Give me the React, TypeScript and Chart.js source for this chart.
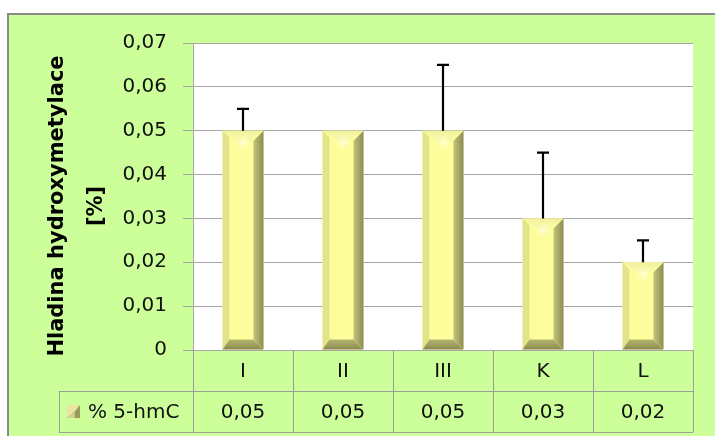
import React, { useEffect, useRef } from "react";
import { Chart, registerables } from "chart.js";

Chart.register(...registerables);

const categories = ["I", "II", "III", "K", "L"];
const seriesName = "% 5-hmC";
const values = [0.05, 0.05, 0.05, 0.03, 0.02];
const errors = [0.005, 0, 0.015, 0.015, 0.005];
const yMin = 0;
const yMax = 0.07;
const yStep = 0.01;
const axisTitle = ["Hladina hydroxymetylace", "[%]"];

const FONT = "'DejaVu Sans', sans-serif";
const fmt = (v: number) => (Math.abs(v) < 1e-9 ? "0" : v.toFixed(2).replace(".", ","));

const backgroundPlugin = {
  id: "bgPlugin",
  beforeDraw(chart: any) {
    const { ctx, width, height, chartArea } = chart;
    ctx.save();
    ctx.fillStyle = "#ffffff";
    ctx.fillRect(0, 0, width, height);
    ctx.fillStyle = "#ccff99";
    ctx.fillRect(7, 13, width - 7, height - 13);
    ctx.strokeStyle = "#8a8a8a";
    ctx.lineWidth = 2;
    ctx.beginPath();
    ctx.moveTo(8, height);
    ctx.lineTo(8, 14);
    ctx.lineTo(width, 14);
    ctx.stroke();
    ctx.fillStyle = "#ffffff";
    ctx.fillRect(chartArea.left, chartArea.top, chartArea.right - chartArea.left, chartArea.bottom - chartArea.top);
    ctx.restore();
  },
};

const bevelPlugin = {
  id: "bevelPlugin",
  afterDatasetsDraw(chart: any) {
    const { ctx } = chart;
    const meta = chart.getDatasetMeta(0);
    const yScale = chart.scales.y;
    ctx.save();
    meta.data.forEach((el: any, i: number) => {
      const w = el.width;
      const l = el.x - w / 2;
      const r = el.x + w / 2;
      const t = el.y;
      const b = el.base;
      const cx = el.x;
      const bl = 7;
      const br = 10;
      const bb = 10;
      // left strip
      ctx.fillStyle = "#e3e38c";
      ctx.beginPath();
      ctx.moveTo(l, t);
      ctx.lineTo(l + bl, t + bl);
      ctx.lineTo(l + bl, b - bb);
      ctx.lineTo(l, b);
      ctx.closePath();
      ctx.fill();
      // right strip
      const gr = ctx.createLinearGradient(r - br, 0, r, 0);
      gr.addColorStop(0, "#c4c47a");
      gr.addColorStop(1, "#8c8c56");
      ctx.fillStyle = gr;
      ctx.beginPath();
      ctx.moveTo(r, t);
      ctx.lineTo(r, b);
      ctx.lineTo(r - br, b - bb);
      ctx.lineTo(r - br, t + br);
      ctx.closePath();
      ctx.fill();
      // bottom
      const gb = ctx.createLinearGradient(0, b - bb, 0, b);
      gb.addColorStop(0, "#b6b670");
      gb.addColorStop(1, "#8a8a52");
      ctx.fillStyle = gb;
      ctx.beginPath();
      ctx.moveTo(l, b);
      ctx.lineTo(r, b);
      ctx.lineTo(r - br, b - bb);
      ctx.lineTo(l + bl, b - bb);
      ctx.closePath();
      ctx.fill();
      // top triangle
      const gt = ctx.createLinearGradient(0, t, 0, t + 14);
      gt.addColorStop(0, "#f2f29c");
      gt.addColorStop(1, "#fcfcb4");
      ctx.fillStyle = gt;
      ctx.beginPath();
      ctx.moveTo(l, t);
      ctx.lineTo(r, t);
      ctx.lineTo(cx, t + 14);
      ctx.closePath();
      ctx.fill();
      const rg = ctx.createRadialGradient(cx, t + 12, 0, cx, t + 12, 8);
      rg.addColorStop(0, "rgba(255,255,215,0.85)");
      rg.addColorStop(1, "rgba(255,255,200,0)");
      ctx.fillStyle = rg;
      ctx.fillRect(cx - 8, t + 4, 16, 16);

      // error bar
      const err = errors[i];
      if (err > 0) {
        const yTop = yScale.getPixelForValue(values[i] + err);
        ctx.strokeStyle = "#000000";
        ctx.lineWidth = 2.2;
        ctx.beginPath();
        ctx.moveTo(cx, t);
        ctx.lineTo(cx, yTop);
        ctx.moveTo(cx - 6, yTop);
        ctx.lineTo(cx + 6, yTop);
        ctx.stroke();
      }
    });
    ctx.restore();
  },
};

const tablePlugin = {
  id: "tablePlugin",
  afterDraw(chart: any) {
    const { ctx, chartArea } = chart;
    const xs = chart.scales.x;
    const top = chartArea.bottom;
    const rowH = 41;
    const r1 = top + rowH;
    const r2 = top + rowH * 2;
    const legLeft = 59;
    ctx.save();
    ctx.strokeStyle = "#9c9c9c";
    ctx.lineWidth = 1;
    const bounds: number[] = [chartArea.left];
    for (let i = 0; i < categories.length - 1; i++) {
      bounds.push(Math.round((xs.getPixelForValue(i) + xs.getPixelForValue(i + 1)) / 2));
    }
    bounds.push(chartArea.right);
    ctx.beginPath();
    ctx.moveTo(legLeft, r1 + 0.5);
    ctx.lineTo(chartArea.right, r1 + 0.5);
    ctx.moveTo(legLeft, r2 + 0.5);
    ctx.lineTo(chartArea.right, r2 + 0.5);
    ctx.moveTo(legLeft + 0.5, r1);
    ctx.lineTo(legLeft + 0.5, r2);
    bounds.forEach((bx) => {
      ctx.moveTo(bx + 0.5, top);
      ctx.lineTo(bx + 0.5, r2);
    });
    ctx.stroke();

    ctx.fillStyle = "#111111";
    ctx.font = `20px ${FONT}`;
    ctx.textAlign = "center";
    ctx.textBaseline = "middle";
    categories.forEach((c, i) => {
      const cx = xs.getPixelForValue(i);
      ctx.fillText(c, cx, top + rowH / 2 + 1);
      ctx.fillText(fmt(values[i]), cx, r1 + rowH / 2 + 1);
    });

    // legend icon (mini bevelled square)
    const il = 67;
    const it = r1 + 14;
    const is = 13;
    ctx.fillStyle = "#9a9a5c";
    ctx.fillRect(il, it, is, is);
    ctx.fillStyle = "#e6e6a2";
    ctx.beginPath();
    ctx.moveTo(il, it);
    ctx.lineTo(il + is, it);
    ctx.lineTo(il + is * 0.6, it + is * 0.5);
    ctx.lineTo(il, it + is);
    ctx.closePath();
    ctx.fill();
    ctx.fillStyle = "#d2d28a";
    ctx.beginPath();
    ctx.moveTo(il, it + is);
    ctx.lineTo(il + is * 0.6, it + is * 0.5);
    ctx.lineTo(il + is * 0.6, it + is);
    ctx.closePath();
    ctx.fill();
    ctx.fillStyle = "#111111";
    ctx.textAlign = "left";
    ctx.fillText(seriesName, 88, r1 + rowH / 2 + 1);

    // axis title
    ctx.font = `bold 21px ${FONT}`;
    ctx.fillStyle = "#000000";
    ctx.textAlign = "center";
    ctx.textBaseline = "middle";
    const cy = 206;
    ctx.translate(58, cy);
    ctx.rotate(-Math.PI / 2);
    ctx.fillText(axisTitle[0], 0, 0);
    ctx.fillText(axisTitle[1], 0, 39);
    ctx.restore();
  },
};

export default function App() {
  const ref = useRef<HTMLCanvasElement | null>(null);
  useEffect(() => {
    if (!ref.current) return;
    const chart = new Chart(ref.current, {
      type: "bar",
      data: {
        labels: categories,
        datasets: [
          {
            label: seriesName,
            data: values,
            backgroundColor: "#fdfd9c",
            borderWidth: 0,
            categoryPercentage: 1,
            barPercentage: 0.41,
          },
        ],
      },
      options: {
        responsive: false,
        animation: false,
        devicePixelRatio: 1,
        layout: { padding: { left: 0, top: 43, right: 22, bottom: 86 } },
        plugins: { legend: { display: false }, tooltip: { enabled: false }, title: { display: false } },
        scales: {
          x: { display: false },
          y: {
            min: yMin,
            max: yMax,
            afterFit: (s: any) => {
              s.width = 193;
            },
            ticks: {
              stepSize: yStep,
              padding: 16,
              color: "#111111",
              font: { family: FONT, size: 20 },
              callback: (v: any) => fmt(Number(v)),
            },
            grid: { color: "#a6a6a6", lineWidth: 1, tickLength: 10, drawTicks: true },
            border: { display: true, color: "#a6a6a6" },
          },
        },
      },
      plugins: [backgroundPlugin, bevelPlugin, tablePlugin],
    });
    return () => chart.destroy();
  }, []);
  return (
    <div style={{ position: "fixed", left: 0, top: 0, width: 715, height: 436 }}>
      <canvas ref={ref} width={715} height={436} style={{ display: "block" }} />
    </div>
  );
}
